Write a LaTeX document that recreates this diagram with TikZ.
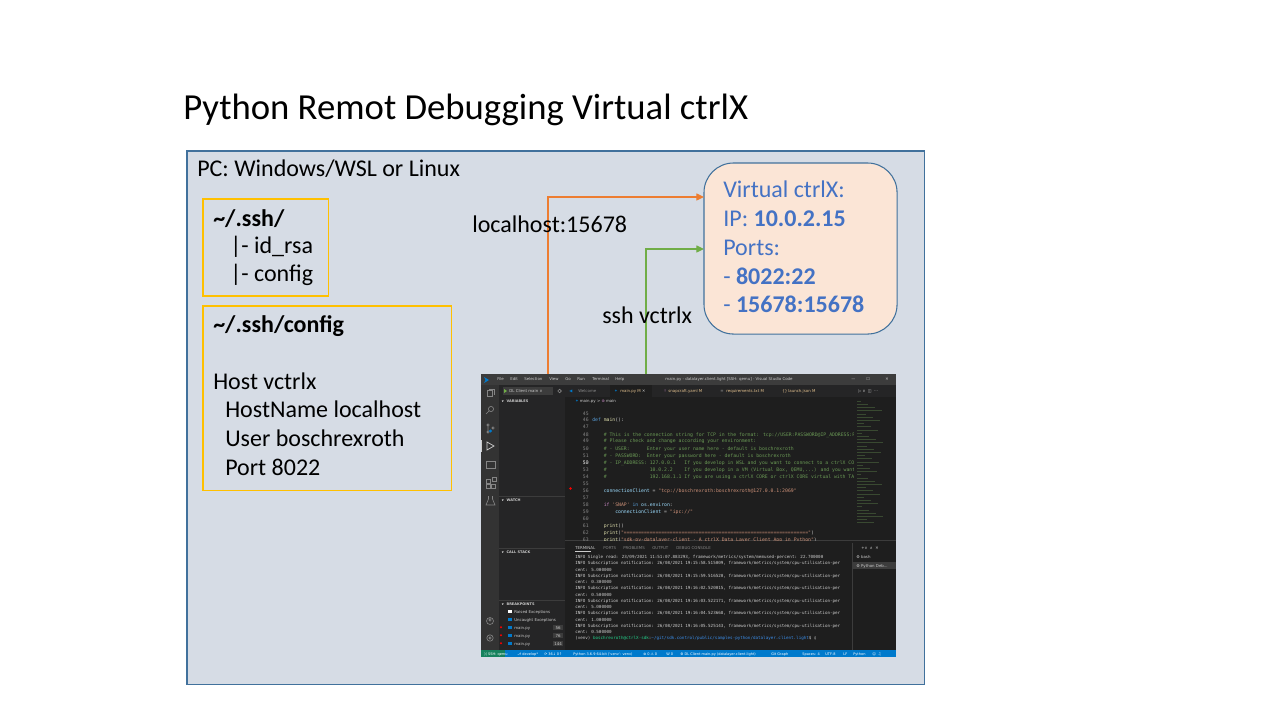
\documentclass[tikz,border=0pt]{standalone}
\usepackage{fontspec}
\setmainfont{Carlito}
\newfontfamily\codefont{DejaVu Sans Mono}
\newfontfamily\uifont{DejaVu Sans}
\usetikzlibrary{positioning,arrows.meta}

\definecolor{pcfill}{HTML}{D6DCE5}
\definecolor{pcline}{HTML}{41719C}
\definecolor{sshline}{HTML}{FFC000}
\definecolor{vxfill}{HTML}{FBE5D6}
\definecolor{vxline}{HTML}{41719C}
\definecolor{vxtext}{HTML}{4472C4}
\definecolor{portcol}{HTML}{ED7D31}
\definecolor{sshcol}{HTML}{70AD47}
\definecolor{vsbg}{HTML}{1E1E1E}
\definecolor{vsbar}{HTML}{3C3C3C}
\definecolor{vsact}{HTML}{333333}
\definecolor{vsside}{HTML}{252526}
\definecolor{vsblue}{HTML}{007ACC}
\definecolor{vsremote}{HTML}{16825D}
\definecolor{vscomment}{HTML}{6A9955}
\definecolor{vskey}{HTML}{569CD6}
\definecolor{vsctl}{HTML}{C586C0}
\definecolor{vsstr}{HTML}{CE9178}
\definecolor{vsvar}{HTML}{9CDCFE}
\definecolor{vsfun}{HTML}{DCDCAA}
\definecolor{vsnum}{HTML}{858585}
\definecolor{vstext}{HTML}{CCCCCC}
\definecolor{vsmod}{HTML}{E2C08D}
\definecolor{vsgreen}{HTML}{23D18B}
\definecolor{vspath}{HTML}{3B8EEA}

\tikzset{
  slide/.style={font=\fontsize{17.07}{20}\selectfont, inner sep=0pt, anchor=base west},
  boxed/.style={inner sep=0pt, outer sep=0pt, anchor=north west},
  filebox/.style={boxed, draw=sshline, line width=0.75pt},
  portlink/.style={draw=portcol, line width=1pt, -{Triangle[length=5.5pt,width=5pt]}},
  sshlink/.style={draw=sshcol, line width=1pt, -{Triangle[length=5.5pt,width=5pt]}},
  code/.style={font=\codefont\fontsize{3.4}{4}\selectfont, inner sep=0pt, anchor=base west, text=vstext},
  lineno/.style={font=\codefont\fontsize{3.4}{4}\selectfont, inner sep=0pt, anchor=base east, text=vsnum},
  term/.style={font=\codefont\fontsize{3}{3.6}\selectfont, inner sep=0pt, anchor=base west, text=vstext},
  ui/.style={font=\uifont\fontsize{2.8}{3.4}\selectfont, inner sep=0pt, anchor=base west, text=vstext},
  uihead/.style={ui, font=\uifont\bfseries\fontsize{2.5}{3}\selectfont},
  status/.style={ui, text=white, font=\uifont\fontsize{2.5}{3}\selectfont},
  icon/.style={draw=vsnum, line width=0.45pt},
}

\begin{document}
\begin{tikzpicture}[x=0.025cm, y=-0.025cm]
  \useasboundingbox (0,0) rectangle (1280,720);
  \fill[white] (0,0) rectangle (1280,720);

  % title
  \node[font=\fontsize{26.1}{31}\selectfont, inner sep=0pt, anchor=base west] (title) at (183,120) {Python Remot Debugging Virtual ctrlX};

  % PC frame
  \node[boxed, draw=pcline, fill=pcfill, line width=0.75pt, minimum width=18.425cm, minimum height=13.325cm] (pc) at (187,151) {};
  \node[slide] (pclabel) at (197,177) {PC: Windows/WSL or Linux};

  % ~/.ssh/ directory
  \node[filebox, minimum width=3.125cm, minimum height=2.425cm] (sshdir) at (203,199) {};
  \node[slide, font=\bfseries\fontsize{17.07}{20}\selectfont] (sshdirname) at (213,227) {\textasciitilde/.ssh/};
  \node[slide] (idrsa) at (230,254) {|- id\_rsa};
  \node[slide] (cfgfile) at (230,282) {|- config};

  % ~/.ssh/config content
  \node[filebox, minimum width=6.2cm, minimum height=4.6cm] (sshconfig) at (203,306) {};
  \node[slide, font=\bfseries\fontsize{17.07}{20}\selectfont] (cfgname) at (213,333) {\textasciitilde/.ssh/config};
  \node[slide] (cfghost) at (213,390) {Host vctrlx};
  \node[slide] (cfghostname) at (225,418) {HostName localhost};
  \node[slide] (cfguser) at (225,447) {User boschrexroth};
  \node[slide] (cfgport) at (225,475) {Port 8022};

  % virtual ctrlX
  \node[boxed, draw=vxline, fill=vxfill, line width=0.75pt, rounded corners=21pt, minimum width=4.825cm, minimum height=4.275cm] (vctrlx) at (704,163) {};
  \node[slide, text=vxtext] (vxname) at (723,198) {Virtual ctrlX:};
  \node[slide, text=vxtext] (vxip) at (723,227) {IP: \textbf{10.0.2.15}};
  \node[slide, text=vxtext] (vxports) at (723,256) {Ports:};
  \node[slide, text=vxtext] (vxssh) at (723,285) {- \textbf{8022:22}};
  \node[slide, text=vxtext] (vxdbg) at (723,313) {- \textbf{15678:15678}};

  % VS Code screenshot
  \node[boxed, fill=vsbg, minimum width=10.375cm, minimum height=7.075cm] (vscode) at (481,374) {};
  \fill[vsbar] (481,374) rectangle (896,385);
  \fill[vsact] (481,385) rectangle (499,650);
  \fill[vsside] (499,385) rectangle (565,650);
  \fill[vsside] (565,385) rectangle (896,397);
  \fill[vsbg] (610,385) rectangle (652,397);
  \fill[vsblue] (481,650) rectangle (896,657);
  \fill[vsremote] (481,650) rectangle (505,657);
  \draw[vsbar, line width=0.4pt] (565,540) -- (896,540);
  \draw[vsbar, line width=0.4pt] (852,543) -- (852,650);
  \fill[vsbar] (853,562) rectangle (896,569);

  % title bar
  \fill[vsblue] (484,377) -- (489,380) -- (484,383) -- (485.5,380) -- cycle;
  \node[ui] (mfile) at (497,381) {File};
  \node[ui] (medit) at (510,381) {Edit};
  \node[ui] (msel) at (524,381) {Selection};
  \node[ui] (mview) at (549,381) {View};
  \node[ui] (mgo) at (565,381) {Go};
  \node[ui] (mrun) at (577,381) {Run};
  \node[ui] (mterm) at (592,381) {Terminal};
  \node[ui] (mhelp) at (615,381) {Help};
  \node[ui, anchor=base] (wintitle) at (729,381) {main.py - datalayer.client.light [SSH: qemu] - Visual Studio Code};
  \node[ui] (wmin) at (851,381) {—};
  \node[ui] (wmax) at (866,381) {☐};
  \node[ui] (wclose) at (885,381) {✕};

  % activity bar
  \draw[icon] (487,390) rectangle (492,396) (489,389) -- (494,389) -- (494,395);
  \draw[icon] (491,409) circle (2.6) (489,411) -- (486,414);
  \draw[icon] (488,425) circle (1.2) (488,432) circle (1.2) (493,428) circle (1.2) (488,426.5) -- (488,430.8);
  \fill[vsblue] (490.5,431) circle (1.6);
  \fill[vstext] (481,440) rectangle (482,452);
  \draw[draw=vstext, line width=0.5pt] (487,442) -- (494,446) -- (487,450) -- cycle;
  \draw[icon] (486,461) rectangle (495,468);
  \draw[icon] (486,479) rectangle (490,483) (486,484) rectangle (490,488) (491,484) rectangle (495,488) (492,477) rectangle (496,481);
  \draw[icon] (488.5,496) -- (488.5,499) -- (486,505) -- (495,505) -- (492.5,499) -- (492.5,496);
  \draw[icon] (490,621) circle (3.5) (490,620) circle (1.2);
  \draw[icon] (490,638) circle (3.2) (490,638) circle (1.2);

  % side bar
  \fill[vsbar] (503,387) rectangle (553,395);
  \fill[sshcol] (504,389) -- (507,391) -- (504,393) -- cycle;
  \node[ui] (runcfg) at (509,392.5) {DL Client main ∨};
  \draw[icon] (559.5,391) circle (1.8);
  \node[uihead] (varhead) at (501,403) {∨ \ VARIABLES};
  \draw[vsbar, line width=0.4pt] (499,496) -- (565,496);
  \node[uihead] (watchhead) at (501,501) {∨ \ WATCH};
  \draw[vsbar, line width=0.4pt] (499,548) -- (565,548);
  \node[uihead] (callhead) at (501,553) {∨ \ CALL STACK};
  \draw[vsbar, line width=0.4pt] (499,600) -- (565,600);
  \node[uihead] (bphead) at (501,605) {∨ \ BREAKPOINTS};
  \fill[white] (508,609.5) rectangle (511.5,613);
  \node[ui] (bpraised) at (514,613) {Raised Exceptions};
  \fill[vsblue] (508,617.5) rectangle (511.5,621);
  \node[ui] (bpuncaught) at (514,621) {Uncaught Exceptions};
  \foreach \y/\n in {629/56, 637/76, 645/144} {
    \fill[red] (501,\y-1.8) circle (1.1);
    \fill[vsblue] (508,\y-3.5) rectangle (511.5,\y);
    \node[ui] at (514,\y) {main.py};
    \fill[vsbar] (553,\y-3.8) rectangle (563,\y+0.6);
    \node[ui, anchor=base] at (558,\y) {\n};
  }

  % editor tabs and breadcrumb
  \node[ui, text=vsblue] (tabwicon) at (569,393) {◀};
  \node[ui, text=vsnum] (tabwelcome) at (578,393) {Welcome};
  \node[ui, text=vsblue] (tabmicon) at (614,393) {✦};
  \node[ui, text=vsmod] (tabmain) at (620,393) {main.py M \textcolor{vstext}{✕}};
  \node[ui, text=vsctl] (tabsicon) at (664,393) {!};
  \node[ui, text=vsmod] (tabsnap) at (668,393) {snapcraft.yaml M};
  \node[ui, text=vsnum] (tabricon) at (720,393) {≡};
  \node[ui, text=vsmod] (tabreq) at (726,393) {requirements.txt M};
  \node[ui, text=vsmod] (tablicon) at (782,393) {\{\}};
  \node[ui, text=vsmod] (tablaunch) at (788,393) {launch.json M};
  \node[ui] (tabtools) at (858,393) {▷ ∨ \ ◫ \ ⋯};
  \node[ui] (crumb) at (575,403) {\textcolor{vsblue}{✦} main.py \textgreater\ \textcolor{vsctl}{⊛} main};

  % editor code
  \foreach \n in {45,...,62}
    \node[lineno] at (589,{415+7*(\n-45)}) {\n};
  \node[lineno, text=vstext] at (589,464) {50};
  \fill[red] (570.5,488.5) circle (1.3);
  \begin{scope}
    \clip (565,397) rectangle (853,540);
    \node[lineno] at (589,541) {63};
    \node[code] (c46) at (592,422) {\textcolor{vskey}{def} \textcolor{vsfun}{main}():};
    \node[code, text=vscomment] (c48) at (603.5,436) {\# This is the connection string for TCP in the format: tcp://USER:PASSWORD@IP\_ADDRESS:PORT};
    \node[code, text=vscomment] (c49) at (603.5,443) {\# Please check and change according your environment:};
    \node[code, text=vscomment] (c50) at (603.5,450) {\# - USER:~~~~~~Enter your user name here - default is boschrexroth};
    \node[code, text=vscomment] (c51) at (603.5,457) {\# - PASSWORD:~~Enter your password here - default is boschrexroth};
    \node[code, text=vscomment] (c52) at (603.5,464) {\# - IP\_ADDRESS: 127.0.0.1~~~If you develop in WSL and you want to connect to a ctrlX CORE};
    \node[code, text=vscomment] (c53) at (603.5,471) {\#~~~~~~~~~~~~~~~10.0.2.2~~~~If you develop in a VM (Virtual Box, QEMU,...) and you want to};
    \node[code, text=vscomment] (c54) at (603.5,478) {\#~~~~~~~~~~~~~~~192.168.1.1 If you are using a ctrlX CORE or ctrlX CORE virtual with TAP};
    \node[code] (c56) at (603.5,492) {\textcolor{vsvar}{connectionClient} = \textcolor{vsstr}{"tcp://boschrexroth:boschrexroth@127.0.0.1:2069"}};
    \node[code] (c58) at (603.5,506) {\textcolor{vsctl}{if} \textcolor{vsstr}{'SNAP'} \textcolor{vskey}{in} \textcolor{vsvar}{os}.\textcolor{vsvar}{environ}:};
    \node[code] (c59) at (615,513) {\textcolor{vsvar}{connectionClient} = \textcolor{vsstr}{"ipc://"}};
    \node[code] (c61) at (603.5,527) {\textcolor{vsfun}{print}()};
    \node[code] (c62) at (603.5,534) {\textcolor{vsfun}{print}(\textcolor{vsstr}{"================================================================"})};
    \node[code] (c63) at (603.5,541) {\textcolor{vsfun}{print}(\textcolor{vsstr}{"sdk-py-datalayer-client - A ctrlX Data Layer Client App in Python"})};
  \end{scope}
  \foreach \i in {0,...,38}
    \draw[vscomment!35!vsbg, line width=0.35pt] (857,{401+3.2*\i}) -- ++({4+mod(\i*7,23)},0);

  % terminal panel
  \node[ui] (ptterm) at (575,549) {TERMINAL};
  \draw[vstext, line width=0.3pt] (575,551.5) -- (591,551.5);
  \node[ui, text=vsnum] (ptports) at (603,549) {PORTS};
  \node[ui, text=vsnum] (ptprob) at (623,549) {PROBLEMS};
  \node[ui, text=vsnum] (ptout) at (652,549) {OUTPUT};
  \node[ui, text=vsnum] (ptdebug) at (676,549) {DEBUG CONSOLE};
  \node[ui] (pttools) at (861,549) {+∨ \ ∧ \ ✕};
  \node[ui] (ptbash) at (856,558) {⚙ bash};
  \node[ui] (ptpy) at (856,567) {⚙ Python Deb...};
  \begin{scope}
    \clip (565,541) rectangle (851,650);
    \foreach \txt [count=\i from 0] in {
      {INFO Single read: 23/09/2021 11:51:07.883293, framework/metrics/system/memused-percent: 22.700000},
      {INFO Subscription notification: 26/08/2021 19:15:58.515009, framework/metrics/system/cpu-utilisation-per},
      {cent: 5.000000},
      {INFO Subscription notification: 26/08/2021 19:15:59.516520, framework/metrics/system/cpu-utilisation-per},
      {cent: 0.300000},
      {INFO Subscription notification: 26/08/2021 19:16:02.520015, framework/metrics/system/cpu-utilisation-per},
      {cent: 0.500000},
      {INFO Subscription notification: 26/08/2021 19:16:03.522171, framework/metrics/system/cpu-utilisation-per},
      {cent: 5.000000},
      {INFO Subscription notification: 26/08/2021 19:16:04.523668, framework/metrics/system/cpu-utilisation-per},
      {cent: 1.000000},
      {INFO Subscription notification: 26/08/2021 19:16:05.525143, framework/metrics/system/cpu-utilisation-per},
      {cent: 0.500000}}
      \node[term] at (575,{558.5+6.25*\i}) {\txt};
    \node[term] (prompt) at (575,639.75) {(venv) \textcolor{vsgreen}{boschrexroth@ctrlX-sdk}:\textcolor{vspath}{\textasciitilde/git/sdk.control/public/samples-python/datalayer.client.light}\$ \textcolor{white}{▯}};
  \end{scope}

  % status bar
  \node[status] (stssh) at (484,655.5) {⟩⟨ SSH: qemu};
  \node[status] (stgit) at (517,655.5) {⎇ develop*};
  \node[status] (stsync) at (544,655.5) {⟳ 36↓ 0↑};
  \node[status] (stpy) at (573,655.5) {Python 3.6.9 64-bit ('venv': venv)};
  \node[status] (sterr) at (643,655.5) {⊗ 0 ⚠ 0};
  \node[status] (stw) at (666,655.5) {W 0};
  \node[status] (stdl) at (680,655.5) {⚙ DL Client main.py (datalayer.client.light)};
  \node[status] (stgraph) at (771,655.5) {Git Graph};
  \node[status] (stspaces) at (802,655.5) {Spaces: 4};
  \node[status] (stenc) at (825,655.5) {UTF-8};
  \node[status] (steol) at (843,655.5) {LF};
  \node[status] (stlang) at (853,655.5) {Python};
  \node[status] (sticons) at (872,655.5) {☺ \ ♫};

  % connections
  \coordinate (portfoot) at (548,374);
  \coordinate (porty) at (0,197);
  \coordinate (sshfoot) at (646,374);
  \coordinate (sshy) at (0,249);
  \draw[portlink] (portfoot) |- (vctrlx.west |- porty);
  \draw[sshlink] (sshfoot) |- (vctrlx.west |- sshy);
  \node[slide] (portlabel) at (472,233) {localhost:15678};
  \node[slide] (sshlabel) at (602,324) {ssh vctrlx};
\end{tikzpicture}
\end{document}
